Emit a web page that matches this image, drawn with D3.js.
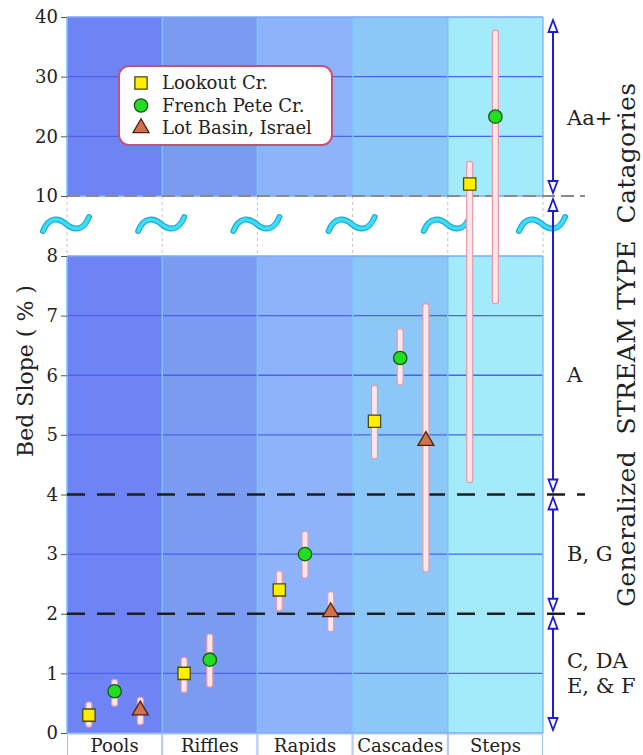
<!DOCTYPE html>
<html>
<head>
<meta charset="utf-8">
<script src="https://cdn.jsdelivr.net/npm/d3@7"></script>
<style>
  body { margin: 0; background: #fff; }
  text { font-family: "DejaVu Serif", serif; fill: #222; }
</style>
</head>
<body>
<div id="chart"></div>
<script>
const categories = ["Pools", "Riffles", "Rapids", "Cascades", "Steps"];
const sites = ["Lookout Cr.", "French Pete Cr.", "Lot Basin, Israel"];

const lookoutMid  = [0.3, 1.0, 2.4, 5.23, 12];
const lookoutLow  = [0.1, 0.68, 2.05, 4.6, 4.2];
const lookoutHigh = [0.52, 1.27, 2.72, 5.83, 15.8];

const frenchMid  = [0.7, 1.23, 3.0, 6.29, 23.3];
const frenchLow  = [0.45, 0.77, 2.6, 5.84, 7.2];
const frenchHigh = [0.9, 1.66, 3.38, 6.78, 37.8];

const lotMid  = [0.38, null, 2.03, 4.9, null];
const lotLow  = [0.14, null, 1.7, 2.7, null];
const lotHigh = [0.6, null, 2.37, 7.2, null];

const lowTicks = [0, 1, 2, 3, 4, 5, 6, 7, 8];
const highTicks = [10, 20, 30, 40];

const streamTypes = ["Aa+", "A", "B, G", "C, DA|E, & F"];
const typeBounds = [[10, 40], [4, 10], [2, 4], [0, 2]];
const typeLabelAt = [23, 6, 3, 1];

const colFill = ["#6f84f4", "#7b9bf1", "#8db3fb", "#8bc8f8", "#a3ebfb"];

const W = 643, H = 755;
const left = 67, right = 543;

const svg = d3.select("#chart").append("svg")
  .attr("width", W).attr("height", H);

const x = d3.scaleBand().domain(categories).range([left, right]);
const sub = d3.scalePoint().domain(sites).range([0.23, 0.77]);

const yLow = d3.scaleLinear().domain([0, 8]).range([733, 256]);
const yHigh = d3.scaleLinear().domain([10, 40]).range([196, 17]);
const yGap = d3.scaleLinear().domain([8, 10]).range([256, 196]);
const y = v => v <= 8 ? yLow(v) : (v >= 10 ? yHigh(v) : yGap(v));

// panels
[[yLow, 0, 8], [yHigh, 10, 40]].forEach(([sc, a, b]) => {
  const g = svg.append("g");
  g.selectAll("rect").data(categories).enter().append("rect")
    .attr("x", d => x(d)).attr("width", x.bandwidth())
    .attr("y", sc(b)).attr("height", sc(a) - sc(b))
    .attr("fill", (d, i) => colFill[i]);
});

// grid
const gridVals = [1, 3, 5, 6, 7, 20, 30];
svg.append("g").selectAll("line").data(gridVals).enter().append("line")
  .attr("x1", left).attr("x2", right)
  .attr("y1", d => y(d)).attr("y2", d => y(d))
  .attr("stroke", "#4c62e8").attr("stroke-width", 1.3);

// column edges
const edges = categories.map(c => x(c)).concat([right]);
[[0, 8], [10, 40]].forEach(([a, b]) => {
  svg.append("g").selectAll("line").data(edges).enter().append("line")
    .attr("x1", d => d).attr("x2", d => d)
    .attr("y1", y(b)).attr("y2", y(a))
    .attr("stroke", "#7cc3ff").attr("stroke-width", 1.5);
  svg.append("g").selectAll("line").data([a, b]).enter().append("line")
    .attr("x1", left).attr("x2", right)
    .attr("y1", d => y(d)).attr("y2", d => y(d))
    .attr("stroke", "#78a8ff").attr("stroke-width", 1.5);
});

// break region
svg.append("g").selectAll("line").data(edges).enter().append("line")
  .attr("x1", d => d).attr("x2", d => d)
  .attr("y1", y(10)).attr("y2", y(8))
  .attr("stroke", "#c4c4c4").attr("stroke-dasharray", "3,3");

const tilde = "M-23,7 C-17,-8 -7,-6 0,0 C7,6 17,8 23,-7";
const tg = svg.append("g").selectAll("g").data(edges).enter().append("g")
  .attr("transform", d => `translate(${d - 1},${(y(10) + y(8)) / 2 - 2})`);
tg.append("path").attr("d", tilde).attr("fill", "none")
  .attr("stroke", "#1aa9d0").attr("stroke-width", 6).attr("stroke-linecap", "round");
tg.append("path").attr("d", tilde).attr("fill", "none")
  .attr("stroke", "#3fdcf6").attr("stroke-width", 3.6).attr("stroke-linecap", "round");

// type boundary lines
svg.append("line")
  .attr("x1", left).attr("x2", 585).attr("y1", y(10)).attr("y2", y(10))
  .attr("stroke", "#8a8a8a").attr("stroke-width", 2).attr("stroke-dasharray", "13,6");
svg.append("g").selectAll("line").data([2, 4]).enter().append("line")
  .attr("x1", left).attr("x2", 585)
  .attr("y1", d => y(d)).attr("y2", d => y(d))
  .attr("stroke", "#1e1e1e").attr("stroke-width", 2.4).attr("stroke-dasharray", "18,12");

// axes
const axLow = svg.append("g").attr("transform", `translate(${left},0)`)
  .call(d3.axisLeft(yLow).tickValues(lowTicks).tickSize(6).tickPadding(3).tickFormat(d3.format("d")));
const axHigh = svg.append("g").attr("transform", `translate(${left},0)`)
  .call(d3.axisLeft(yHigh).tickValues(highTicks).tickSize(6).tickPadding(3).tickFormat(d3.format("d")));
[axLow, axHigh].forEach(a => {
  a.select(".domain").remove();
  a.selectAll("line").attr("stroke", "#555");
  a.selectAll("text").attr("font-size", 18).attr("fill", "#222");
});

svg.append("text")
  .attr("transform", `translate(33,371) rotate(-90)`)
  .attr("text-anchor", "middle").attr("font-size", 22)
  .text("Bed Slope ( % )");

// category boxes
const cat = svg.append("g").selectAll("g").data(categories).enter().append("g");
cat.append("rect")
  .attr("x", d => x(d) + 0.5).attr("width", x.bandwidth() - 1)
  .attr("y", 734).attr("height", 24)
  .attr("fill", "#fff").attr("stroke", "#a9bff2");
cat.append("text")
  .attr("x", d => x(d) + x.bandwidth() / 2).attr("y", 752)
  .attr("text-anchor", "middle").attr("font-size", 18)
  .text(d => d);

// error bars + markers
const series = [
  { mid: lookoutMid, low: lookoutLow, high: lookoutHigh, sym: d3.symbolSquare, size: 150, fill: "#ffee00", stroke: "#4a4a00" },
  { mid: frenchMid, low: frenchLow, high: frenchHigh, sym: d3.symbolCircle, size: 140, fill: "#22dd22", stroke: "#155515" },
  { mid: lotMid, low: lotLow, high: lotHigh, sym: d3.symbolTriangle, size: 110, fill: "#d4714c", stroke: "#4a2214" }
];
const px = (si, ci) => x(categories[ci]) + sub(sites[si]) * x.bandwidth();

series.forEach((s, si) => {
  const idx = categories.map((c, i) => i).filter(i => s.mid[i] != null);
  svg.append("g").selectAll("rect").data(idx).enter().append("rect")
    .attr("x", i => px(si, i) - 3).attr("width", 6)
    .attr("y", i => y(s.high[i])).attr("height", i => y(s.low[i]) - y(s.high[i]))
    .attr("rx", 2.5)
    .attr("fill", "#fbe6ec").attr("stroke", "#e59aaa").attr("stroke-width", 1.2);
});
series.forEach((s, si) => {
  const idx = categories.map((c, i) => i).filter(i => s.mid[i] != null);
  svg.append("g").selectAll("path").data(idx).enter().append("path")
    .attr("transform", i => `translate(${px(si, i)},${y(s.mid[i])})`)
    .attr("d", d3.symbol(s.sym, s.size))
    .attr("fill", s.fill).attr("stroke", s.stroke).attr("stroke-width", 1.3);
});

// legend
const lg = svg.append("g");
lg.append("rect").attr("x", 119).attr("y", 66).attr("width", 213).attr("height", 79)
  .attr("rx", 10).attr("fill", "#fff").attr("stroke", "#c4517c").attr("stroke-width", 2);
const li = lg.selectAll("g").data(series).enter().append("g")
  .attr("transform", (d, i) => `translate(141,${83 + i * 22.5})`);
li.append("path").attr("d", d => d3.symbol(d.sym, d.size)())
  .attr("fill", d => d.fill).attr("stroke", d => d.stroke).attr("stroke-width", 1.3);
li.append("text").attr("x", 21).attr("y", 6).attr("font-size", 18)
  .text((d, i) => sites[i]);

// stream type arrows
const ax = 553, blue = "#1b1bd8";
const arrows = svg.append("g").selectAll("g").data(typeBounds).enter().append("g");
arrows.append("line")
  .attr("x1", ax).attr("x2", ax)
  .attr("y1", d => y(d[1]) + 3).attr("y2", d => y(d[0]) - 3)
  .attr("stroke", blue).attr("stroke-width", 2);
arrows.append("path")
  .attr("d", d => { const t = y(d[1]) + 3; return `M${ax},${t} L${ax - 4.5},${t + 12} L${ax + 4.5},${t + 12} Z`; })
  .attr("fill", "#fff").attr("stroke", blue).attr("stroke-width", 1.8);
arrows.append("path")
  .attr("d", d => { const b = y(d[0]) - 3; return `M${ax},${b} L${ax - 4.5},${b - 12} L${ax + 4.5},${b - 12} Z`; })
  .attr("fill", "#fff").attr("stroke", blue).attr("stroke-width", 1.8);

const tl = svg.append("g").selectAll("text").data(streamTypes).enter().append("text")
  .attr("x", 568).attr("font-size", 21)
  .attr("y", (d, i) => d.includes("|") ? y(typeLabelAt[i]) - 5 : y(typeLabelAt[i]) + 7);
tl.selectAll("tspan").data(d => d.split("|")).enter().append("tspan")
  .attr("x", 567).attr("dy", (d, i) => i === 0 ? 0 : 25)
  .text(d => d);

svg.append("text")
  .attr("transform", `translate(635,345) rotate(-90)`)
  .attr("text-anchor", "middle").attr("font-size", 25)
  .style("white-space", "pre")
  .attr("textLength", 524).attr("lengthAdjust", "spacing")
  .text("Generalized  STREAM TYPE  Catagories");
</script>
</body>
</html>
